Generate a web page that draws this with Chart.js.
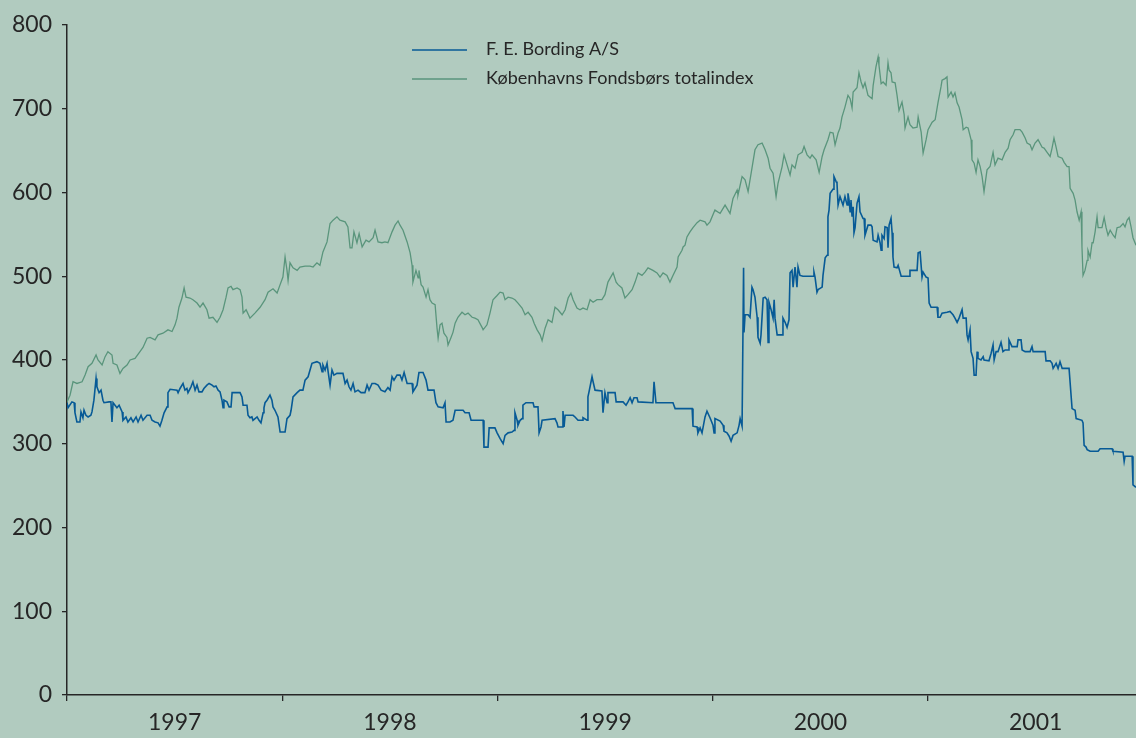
<!DOCTYPE html>
<html>
<head>
<meta charset="utf-8">
<script src="https://cdn.jsdelivr.net/npm/chart.js@4.4.1/dist/chart.umd.min.js"></script>
<style>
  html, body { margin: 0; padding: 0; background: #b1cbbf; }
  #wrap { width: 1136px; height: 738px; position: relative; }
</style>
</head>
<body>
<div id="wrap"><canvas id="kurs"></canvas></div>
<script>
// dato som decimalår, kurs/indeks
var yearLabels = [1997, 1998, 1999, 2000, 2001];

var bordingDates = [
  1997.000, 1997.005, 1997.023, 1997.033, 1997.037, 1997.046, 1997.060, 1997.065, 1997.074, 1997.079,
  1997.088, 1997.098, 1997.111, 1997.116, 1997.125, 1997.135, 1997.139, 1997.149, 1997.158, 1997.167,
  1997.172, 1997.195, 1997.204, 1997.209, 1997.214, 1997.223, 1997.232, 1997.242, 1997.256, 1997.260,
  1997.274, 1997.283, 1997.297, 1997.307, 1997.321, 1997.330, 1997.344, 1997.353, 1997.372, 1997.386,
  1997.395, 1997.409, 1997.423, 1997.432, 1997.441, 1997.451, 1997.465, 1997.469, 1997.479, 1997.511,
  1997.516, 1997.525, 1997.539, 1997.548, 1997.557, 1997.562, 1997.576, 1997.585, 1997.595, 1997.604,
  1997.613, 1997.627, 1997.636, 1997.650, 1997.660, 1997.674, 1997.683, 1997.692, 1997.702, 1997.711,
  1997.720, 1997.725, 1997.729, 1997.743, 1997.753, 1997.762, 1997.767, 1997.804, 1997.813, 1997.818,
  1997.836, 1997.841, 1997.850, 1997.859, 1997.864, 1997.883, 1997.892, 1997.901, 1997.911, 1997.915,
  1997.920, 1997.929, 1997.943, 1997.952, 1997.957, 1997.966, 1997.980, 1997.990,
  1998.013, 1998.022, 1998.036, 1998.041, 1998.050, 1998.069, 1998.082, 1998.096, 1998.106, 1998.120,
  1998.129, 1998.138, 1998.161, 1998.175, 1998.185, 1998.189, 1998.199, 1998.208, 1998.213, 1998.222,
  1998.231, 1998.240, 1998.254, 1998.282, 1998.292, 1998.301, 1998.310, 1998.319, 1998.329, 1998.338,
  1998.352, 1998.366, 1998.384, 1998.394, 1998.403, 1998.417, 1998.431, 1998.445, 1998.459, 1998.477,
  1998.491, 1998.501, 1998.510, 1998.519, 1998.533, 1998.547, 1998.556, 1998.566, 1998.580, 1998.603,
  1998.607, 1998.626, 1998.635, 1998.654, 1998.668, 1998.677, 1998.705, 1998.714, 1998.724, 1998.747,
  1998.756, 1998.761, 1998.779, 1998.793, 1998.803, 1998.840, 1998.849, 1998.868, 1998.877, 1998.933,
  1998.937, 1998.956, 1998.961, 1998.988, 1998.998,
  1999.012, 1999.026, 1999.035, 1999.049, 1999.067, 1999.077, 1999.081, 1999.091, 1999.095, 1999.105,
  1999.114, 1999.118, 1999.132, 1999.165, 1999.170, 1999.188, 1999.193, 1999.202, 1999.207, 1999.267,
  1999.276, 1999.281, 1999.300, 1999.304, 1999.309, 1999.314, 1999.351, 1999.360, 1999.374, 1999.393,
  1999.397, 1999.416, 1999.420, 1999.425, 1999.439, 1999.444, 1999.453, 1999.485, 1999.490, 1999.499,
  1999.509, 1999.513, 1999.546, 1999.551, 1999.583, 1999.597, 1999.606, 1999.616, 1999.625, 1999.634,
  1999.648, 1999.653, 1999.722, 1999.727, 1999.736, 1999.815, 1999.825, 1999.904, 1999.908, 1999.927,
  1999.931, 1999.941, 1999.950, 1999.964, 1999.973, 1999.987,
  2000.001, 2000.006, 2000.010, 2000.034, 2000.048, 2000.052, 2000.066, 2000.076, 2000.085, 2000.094,
  2000.113, 2000.122, 2000.127, 2000.136, 2000.143, 2000.145, 2000.150, 2000.164, 2000.173, 2000.182,
  2000.187, 2000.196, 2000.206, 2000.210, 2000.220, 2000.224, 2000.234, 2000.243, 2000.252, 2000.257,
  2000.261, 2000.271, 2000.280, 2000.285, 2000.289, 2000.299, 2000.322, 2000.326, 2000.336, 2000.345,
  2000.354, 2000.359, 2000.368, 2000.373, 2000.382, 2000.391, 2000.396, 2000.405, 2000.419, 2000.466,
  2000.470, 2000.475, 2000.484, 2000.489, 2000.508, 2000.512, 2000.522, 2000.531, 2000.535, 2000.540,
  2000.545, 2000.559, 2000.563, 2000.573, 2000.577, 2000.582, 2000.591, 2000.605, 2000.614, 2000.624,
  2000.628, 2000.633, 2000.638, 2000.642, 2000.647, 2000.652, 2000.656, 2000.661, 2000.670, 2000.679,
  2000.684, 2000.698, 2000.703, 2000.707, 2000.721, 2000.735, 2000.740, 2000.745, 2000.763, 2000.768,
  2000.777, 2000.782, 2000.786, 2000.796, 2000.800, 2000.810, 2000.814, 2000.819, 2000.828, 2000.833,
  2000.837, 2000.842, 2000.856, 2000.861, 2000.875, 2000.912, 2000.916, 2000.949, 2000.954, 2000.963,
  2000.972, 2000.977, 2000.991,
  2001.000, 2001.005, 2001.014, 2001.042, 2001.046, 2001.056, 2001.065, 2001.088, 2001.102, 2001.116,
  2001.125, 2001.135, 2001.144, 2001.158, 2001.163, 2001.177, 2001.181, 2001.186, 2001.195, 2001.200,
  2001.209, 2001.214, 2001.223, 2001.228, 2001.232, 2001.246, 2001.256, 2001.260, 2001.283, 2001.293,
  2001.302, 2001.307, 2001.316, 2001.325, 2001.339, 2001.348, 2001.358, 2001.372, 2001.376, 2001.390,
  2001.414, 2001.418, 2001.432, 2001.437, 2001.451, 2001.474, 2001.483, 2001.488, 2001.544, 2001.548,
  2001.567, 2001.576, 2001.581, 2001.595, 2001.604, 2001.613, 2001.623, 2001.655, 2001.669, 2001.683,
  2001.688, 2001.715, 2001.720, 2001.725, 2001.734, 2001.739, 2001.753, 2001.790, 2001.799, 2001.855,
  2001.859, 2001.906, 2001.911, 2001.915, 2001.948, 2001.952, 2001.966
];
var bordingValues = [
  349, 343, 350, 349, 337, 326, 326, 338, 331, 340,
  334, 332, 334, 338, 352, 378, 368, 361, 364, 352,
  349, 350, 350, 326, 349, 346, 343, 346, 338, 328,
  332, 326, 331, 326, 332, 326, 334, 328, 334, 334,
  328, 326, 325, 321, 328, 337, 344, 361, 365, 364,
  361, 366, 372, 364, 366, 361, 368, 374, 364, 370,
  362, 362, 366, 370, 372, 370, 368, 369, 364, 362,
  352, 343, 352, 350, 344, 344, 361, 361, 356, 346,
  346, 334, 331, 332, 328, 332, 328, 325, 337, 343,
  349, 352, 358, 352, 344, 340, 332, 314,
  314, 330, 334, 340, 356, 361, 364, 364, 376, 380,
  388, 396, 398, 396, 386, 394, 388, 396, 386, 370,
  388, 382, 384, 384, 372, 376, 368, 364, 372, 362,
  364, 361, 361, 370, 364, 372, 372, 370, 364, 362,
  367, 364, 380, 376, 382, 382, 376, 385, 372, 372,
  362, 370, 385, 385, 376, 364, 364, 349, 344, 343,
  349, 326, 326, 328, 340, 340, 337, 337, 328, 328,
  296, 296, 319, 319, 313,
  306, 300, 310, 313, 314, 316, 337, 328, 322, 328,
  330, 346, 349, 349, 344, 344, 313, 320, 328, 330,
  325, 320, 320, 339, 320, 334, 334, 332, 328, 328,
  331, 328, 356, 362, 380, 374, 364, 363, 337, 361,
  349, 361, 361, 350, 350, 346, 350, 355, 349, 355,
  355, 350, 349, 374, 349, 349, 342, 342, 321, 320,
  313, 319, 313, 332, 339, 331,
  322, 313, 330, 327, 322, 315, 313, 309, 303, 310,
  313, 322, 330, 321, 510, 433, 454, 454, 451, 487,
  484, 475, 451, 427, 420, 430, 474, 475, 472, 421,
  469, 460, 450, 472, 450, 430, 430, 450, 445, 439,
  448, 504, 507, 487, 511, 487, 511, 501, 500, 500,
  505, 499, 481, 484, 487, 501, 522, 525, 571, 579,
  599, 604, 619, 613, 611, 585, 595, 585, 595, 585,
  599, 591, 577, 591, 571, 583, 552, 558, 587, 595,
  577, 569, 569, 549, 561, 561, 559, 543, 541, 549,
  540, 531, 549, 545, 559, 558, 534, 561, 569, 552,
  523, 511, 510, 513, 500, 500, 507, 507, 528, 529,
  499, 505, 499,
  498, 468, 463, 463, 451, 451, 456, 457, 458, 454,
  450, 445, 450, 460, 450, 450, 430, 424, 436, 410,
  402, 382, 382, 410, 402, 400, 404, 400, 399, 408,
  418, 400, 410, 410, 421, 410, 412, 412, 424, 416,
  416, 424, 424, 412, 410, 410, 416, 410, 410, 399,
  399, 396, 390, 396, 390, 398, 390, 390, 342, 340,
  330, 328, 325, 298, 296, 293, 291, 291, 294, 294,
  291, 290, 279, 285, 285, 251, 248
];

var kfxDates = [
  1997.000, 1997.014, 1997.028, 1997.046, 1997.070, 1997.084, 1997.098, 1997.116, 1997.135, 1997.144,
  1997.163, 1997.177, 1997.190, 1997.209, 1997.214, 1997.232, 1997.246, 1997.260, 1997.279, 1997.293,
  1997.316, 1997.339, 1997.353, 1997.372, 1997.386, 1997.409, 1997.423, 1997.446, 1997.469, 1997.488,
  1997.502, 1997.511, 1997.520, 1997.534, 1997.544, 1997.553, 1997.571, 1997.585, 1997.604, 1997.618,
  1997.632, 1997.650, 1997.660, 1997.678, 1997.697, 1997.711, 1997.725, 1997.739, 1997.748, 1997.762,
  1997.771, 1997.790, 1997.804, 1997.813, 1997.818, 1997.832, 1997.850, 1997.873, 1997.897, 1997.920,
  1997.934, 1997.957, 1997.976, 1997.990,
  1998.003, 1998.013, 1998.022, 1998.027, 1998.036, 1998.050, 1998.069, 1998.082, 1998.106, 1998.129,
  1998.143, 1998.161, 1998.175, 1998.189, 1998.208, 1998.222, 1998.236, 1998.254, 1998.268, 1998.292,
  1998.305, 1998.315, 1998.324, 1998.333, 1998.347, 1998.357, 1998.371, 1998.389, 1998.403, 1998.422,
  1998.431, 1998.445, 1998.463, 1998.477, 1998.491, 1998.510, 1998.524, 1998.538, 1998.547, 1998.561,
  1998.580, 1998.594, 1998.603, 1998.607, 1998.621, 1998.631, 1998.635, 1998.645, 1998.654, 1998.668,
  1998.677, 1998.686, 1998.696, 1998.710, 1998.719, 1998.724, 1998.733, 1998.742, 1998.751, 1998.765,
  1998.770, 1998.784, 1998.793, 1998.803, 1998.816, 1998.835, 1998.849, 1998.863, 1998.882, 1998.895,
  1998.909, 1998.928, 1998.933, 1998.951, 1998.965, 1998.979, 1998.998,
  1999.012, 1999.026, 1999.035, 1999.049, 1999.067, 1999.081, 1999.095, 1999.114, 1999.128, 1999.142,
  1999.160, 1999.170, 1999.184, 1999.198, 1999.207, 1999.221, 1999.235, 1999.253, 1999.267, 1999.281,
  1999.300, 1999.314, 1999.328, 1999.341, 1999.351, 1999.369, 1999.383, 1999.397, 1999.416, 1999.430,
  1999.444, 1999.462, 1999.485, 1999.499, 1999.513, 1999.537, 1999.551, 1999.560, 1999.578, 1999.592,
  1999.606, 1999.625, 1999.639, 1999.653, 1999.671, 1999.685, 1999.699, 1999.722, 1999.741, 1999.755,
  1999.769, 1999.787, 1999.801, 1999.815, 1999.834, 1999.839, 1999.857, 1999.862, 1999.871, 1999.880,
  1999.894, 1999.908, 1999.927, 1999.941, 1999.964, 1999.973, 1999.987,
  2000.010, 2000.034, 2000.057, 2000.080, 2000.094, 2000.113, 2000.117, 2000.136, 2000.150, 2000.164,
  2000.182, 2000.196, 2000.210, 2000.229, 2000.243, 2000.257, 2000.266, 2000.280, 2000.294, 2000.303,
  2000.322, 2000.331, 2000.345, 2000.359, 2000.368, 2000.382, 2000.396, 2000.415, 2000.424, 2000.438,
  2000.452, 2000.461, 2000.480, 2000.494, 2000.508, 2000.517, 2000.535, 2000.545, 2000.559, 2000.568,
  2000.582, 2000.591, 2000.600, 2000.614, 2000.628, 2000.638, 2000.647, 2000.652, 2000.670, 2000.679,
  2000.689, 2000.698, 2000.707, 2000.721, 2000.740, 2000.745, 2000.758, 2000.768, 2000.772, 2000.782,
  2000.791, 2000.805, 2000.814, 2000.819, 2000.828, 2000.833, 2000.847, 2000.856, 2000.865, 2000.879,
  2000.889, 2000.893, 2000.907, 2000.916, 2000.930, 2000.949, 2000.954, 2000.968, 2000.977, 2000.991,
  2001.000, 2001.019, 2001.033, 2001.046, 2001.060, 2001.065, 2001.079, 2001.088, 2001.093, 2001.107,
  2001.116, 2001.125, 2001.135, 2001.144, 2001.158, 2001.163, 2001.177, 2001.186, 2001.200, 2001.204,
  2001.214, 2001.223, 2001.232, 2001.242, 2001.251, 2001.260, 2001.274, 2001.288, 2001.302, 2001.311,
  2001.325, 2001.344, 2001.358, 2001.372, 2001.381, 2001.395, 2001.404, 2001.427, 2001.437, 2001.451,
  2001.460, 2001.474, 2001.483, 2001.497, 2001.511, 2001.530, 2001.539, 2001.553, 2001.567, 2001.576,
  2001.585, 2001.595, 2001.604, 2001.623, 2001.632, 2001.646, 2001.655, 2001.660, 2001.674, 2001.683,
  2001.692, 2001.702, 2001.711, 2001.715, 2001.720, 2001.729, 2001.739, 2001.743, 2001.753, 2001.762,
  2001.767, 2001.776, 2001.785, 2001.790, 2001.808, 2001.818, 2001.827, 2001.836, 2001.846, 2001.860,
  2001.869, 2001.878, 2001.892, 2001.906, 2001.915, 2001.925, 2001.934, 2001.943, 2001.952, 2001.966
];
var kfxValues = [
  350, 358, 374, 372, 374, 382, 392, 396, 406, 400,
  394, 404, 410, 406, 396, 394, 384, 390, 394, 400,
  402, 410, 415, 426, 427, 424, 430, 432, 436, 434,
  442, 450, 463, 474, 486, 475, 474, 472, 468, 463,
  468, 460, 450, 451, 445, 451, 460, 475, 486, 488,
  484, 486, 484, 475, 456, 460, 450, 456, 463, 472,
  481, 485, 480, 490,
  499, 523, 507, 495, 516, 510, 507, 511, 512, 512,
  511, 516, 513, 529, 541, 563, 567, 571, 567, 565,
  559, 534, 534, 553, 540, 551, 535, 543, 541, 546,
  555, 541, 540, 541, 540, 553, 561, 566, 561, 555,
  541, 528, 513, 493, 507, 498, 507, 490, 487, 475,
  484, 472, 468, 466, 438, 426, 442, 444, 432, 427,
  418, 427, 433, 444, 451, 457, 454, 456, 451, 450,
  448, 439, 436, 442, 456, 472, 477,
  481, 480, 472, 475, 474, 472, 468, 462, 454, 457,
  451, 444, 436, 430, 423, 438, 448, 445, 463, 460,
  454, 460, 474, 480, 472, 462, 460, 462, 460, 472,
  469, 472, 472, 478, 493, 504, 493, 490, 486, 474,
  478, 484, 493, 504, 501, 505, 510, 507, 504, 499,
  504, 501, 493, 501, 511, 523, 531, 535, 537, 547,
  553, 558, 564, 567, 565, 561, 565,
  579, 575, 585, 575, 593, 603, 597, 619, 615, 601,
  629, 651, 657, 659, 651, 641, 629, 623, 595, 611,
  631, 645, 633, 621, 633, 629, 645, 648, 655, 645,
  641, 645, 639, 624, 643, 651, 663, 672, 671, 657,
  671, 677, 690, 702, 716, 712, 701, 720, 725, 743,
  732, 725, 731, 716, 712, 728, 750, 762, 752, 730,
  732, 728, 755, 746, 743, 732, 731, 716, 698, 708,
  693, 677, 690, 681, 677, 678, 690, 672, 647, 663,
  675, 684, 687, 707, 726, 734, 736, 738, 714, 720,
  714, 719, 707, 702, 687, 675, 678, 677, 663, 639,
  635, 624, 639, 631, 619, 601, 627, 631, 648, 633,
  641, 639, 648, 653, 663, 669, 675, 675, 672, 665,
  659, 657, 651, 659, 663, 654, 653, 648, 643, 653,
  665, 654, 643, 641, 636, 631, 631, 605, 599, 591,
  577, 567, 577, 535, 501, 507, 519, 531, 523, 540,
  540, 553, 571, 558, 558, 570, 558, 549, 555, 549,
  546, 558, 559, 563, 559, 567, 570, 559, 546, 537
];

var BG = '#b1cbbf';
var AXIS = '#262626';
var BLUE = '#075a96';
var GREEN = '#5a957c';
var FONT = 'Lato, "Open Sans", sans-serif';

function pairs(dates, values) {
  var n = Math.min(dates.length, values.length);
  var out = [];
  for (var i = 0; i < n; i++) {
    out.push({ x: dates[i], y: values[i] });
  }
  return out;
}

// baggrundsfarve på hele canvas
var bgPlugin = {
  id: 'bg',
  beforeDraw: function (chart) {
    var c = chart.ctx;
    c.save();
    c.fillStyle = BG;
    c.fillRect(0, 0, chart.width, chart.height);
    c.restore();
  }
};

// signaturforklaring oppe i midten, en linje pr. serie
var legendPlugin = {
  id: 'lineLegend',
  afterDraw: function (chart) {
    var c = chart.ctx;
    c.save();
    c.font = '18px ' + FONT;
    c.textBaseline = 'middle';
    c.textAlign = 'left';
    c.fillStyle = AXIS;
    chart.data.datasets.forEach(function (ds, i) {
      var y = 50 + i * 29;
      c.strokeStyle = ds.borderColor;
      c.lineWidth = 1.5;
      c.beginPath();
      c.moveTo(412, y);
      c.lineTo(467, y);
      c.stroke();
      c.fillText(ds.label, 486, y - 1);
    });
    c.restore();
  }
};

Chart.defaults.font.family = FONT;

new Chart(document.getElementById('kurs'), {
  type: 'line',
  data: {
    datasets: [{
      label: 'F. E. Bording A/S',
      data: pairs(bordingDates, bordingValues),
      borderColor: BLUE,
      borderWidth: 1.6,
      pointRadius: 0,
      tension: 0,
      fill: false
    }, {
      label: 'Københavns Fondsbørs totalindex',
      data: pairs(kfxDates, kfxValues),
      borderColor: GREEN,
      borderWidth: 1.3,
      pointRadius: 0,
      tension: 0,
      fill: false
    }]
  },
  options: {
    responsive: true,
    maintainAspectRatio: false,
    animation: false,
    layout: { padding: { top: 25, right: 0, bottom: 0, left: 0 } },
    plugins: {
      legend: { display: false },
      tooltip: { enabled: false }
    },
    scales: {
      x: {
        type: 'linear',
        min: yearLabels[0],
        max: 2001.966,
        afterBuildTicks: function (scale) {
          var t = [];
          yearLabels.forEach(function (yr) {
            t.push({ value: yr });
            t.push({ value: yr + 0.5 });
          });
          scale.ticks = t;
        },
        afterFit: function (scale) { scale.height = 43; },
        ticks: {
          autoSkip: false,
          maxRotation: 0,
          padding: 8,
          color: AXIS,
          font: { size: 23 },
          callback: function (v) {
            return (v % 1 === 0.5) ? String(Math.floor(v)) : '';
          }
        },
        grid: {
          drawOnChartArea: false,
          tickLength: 6,
          lineWidth: 1.3,
          color: function (ctx) {
            return (ctx.tick && ctx.tick.value % 1 === 0) ? AXIS : 'rgba(0,0,0,0)';
          }
        },
        border: { color: AXIS, width: 1.5 }
      },
      y: {
        min: 0,
        max: 800,
        afterFit: function (scale) { scale.width = 67; },
        ticks: {
          stepSize: 100,
          padding: 10,
          color: AXIS,
          font: { size: 23 }
        },
        grid: {
          drawOnChartArea: false,
          tickLength: 5,
          lineWidth: 1.3,
          color: AXIS
        },
        border: { color: AXIS, width: 1.5 }
      }
    }
  },
  plugins: [bgPlugin, legendPlugin]
});
</script>
</body>
</html>
